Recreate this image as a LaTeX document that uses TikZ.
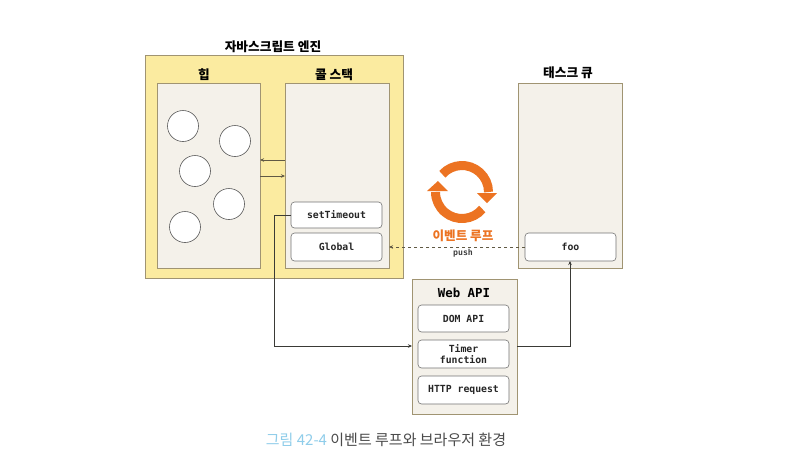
\documentclass[tikz,border=0pt]{standalone}
\usepackage{fontspec}
\usepackage{xcolor}
\usetikzlibrary{arrows.meta}
\setmainfont{Noto Sans CJK KR}
\setmonofont{DejaVu Sans Mono}
\definecolor{engine-yellow}{HTML}{FBEBA0}
\definecolor{panel-bg}{HTML}{F4F1EA}
\definecolor{panel-line}{HTML}{A09472}
\definecolor{loop-orange}{HTML}{EC7322}
\definecolor{caption-blue}{HTML}{8FCDEA}
\definecolor{caption-text}{HTML}{4A4A4A}
\definecolor{wire}{HTML}{3A3A36}
\tikzset{
    panel/.style={draw=panel-line, fill=panel-bg, line width=0.8pt, inner sep=0pt, outer sep=0pt},
    slot/.style={draw=black!55, fill=white, rounded corners=3.5pt, line width=0.6pt, inner sep=0pt, outer sep=0pt,
          minimum width=91pt, align=center, font=\fontsize{9.8}{11.8}\selectfont\ttfamily\bfseries, text=black!85},
    blob/.style={circle, draw=black!65, fill=white, line width=0.6pt, minimum size=31pt, inner sep=0pt},
    heading/.style={font=\fontsize{12.7}{15}\selectfont\bfseries, inner sep=0pt},
    wired/.style={->, color=wire, line width=0.8pt},
    looparc/.style={draw=loop-orange, line width=9pt},
    loophead/.style={fill=loop-orange},
}
\begin{document}
\begin{tikzpicture}[x=1pt, y=-1pt, >={Stealth[length=4pt,width=3.5pt]}]
    \useasboundingbox (0,0) rectangle (785,467);
    \fill[white] (0,0) rectangle (785,467);
    \node[panel, fill=engine-yellow, minimum width=258pt, minimum height=223pt] (engine) at (274,166.5) {};
    \node[heading] (engineTitle) at (273,47) {자바스크립트 엔진};
    \node[panel, minimum width=103pt, minimum height=185pt] (heap) at (208.5,175.5) {};
    \node[heading] (heapTitle) at (204,75) {힙};
    \node[panel, minimum width=104pt, minimum height=185pt] (callStack) at (337,175.5) {};
    \node[heading] (stackTitle) at (334,75) {콜 스택};
    \node[panel, minimum width=104pt, minimum height=185pt] (taskQueue) at (570,175.5) {};
    \node[heading] (queueTitle) at (568,73) {태스크 큐};
    \node[blob] (blobA) at (183,126) {};
    \node[blob] (blobB) at (235,141) {};
    \node[blob] (blobC) at (195,171) {};
    \node[blob] (blobD) at (229,204) {};
    \node[blob] (blobE) at (185,227) {};
    \node[slot, minimum height=26pt] (setTimeout) at (336.5,215) {setTimeout};
    \node[slot, minimum height=28pt] (global) at (336.5,247) {Global};
    \node[slot, minimum height=28pt] (foo) at (570.5,247) {foo};
    \node[panel, minimum width=105pt, minimum height=135pt] (webApi) at (464.5,346.5) {};
    \node[font=\fontsize{12.4}{15}\selectfont\ttfamily\bfseries, inner sep=0pt] (webApiTitle) at (464,293) {Web API};
    \node[slot, minimum height=27pt] (domApi) at (463.5,318.5) {DOM API};
    \node[slot, minimum height=28pt] (timer) at (463.5,354) {Timer\\function};
    \node[slot, minimum height=28pt] (http) at (463.5,390) {HTTP request};
    \coordinate (stackDown) at (274,346);
    \coordinate (fooDrop) at (570,346);
    \draw[<-, draw=panel-line!60!black, line width=0.6pt] (heap.east |- 0,160) -- (callStack.west |- 0,160);
    \draw[->, draw=panel-line!60!black, line width=0.6pt] (heap.east |- 0,176) -- (callStack.west |- 0,176);
    \draw[wired] (setTimeout.west) -- (setTimeout.west -| stackDown) -- (stackDown) -- (stackDown -| webApi.west);
    \draw[wired] (webApi.east |- fooDrop) -- (fooDrop) -- (fooDrop |- foo.south);
    \draw[->, dash pattern=on 3.5pt off 2.5pt, draw=panel-line!60!black, line width=0.8pt] (foo.west) -- (foo.west -| callStack.east);
    \draw[looparc] (462,192) ++(222:26.5) arc[start angle=222, end angle=360, radius=26.5];
    \fill[loophead] (477,193) -- (497,193) -- (487,203) -- cycle;
    \draw[looparc] (462,192) ++(40:26.5) arc[start angle=40, end angle=180, radius=26.5];
    \fill[loophead] (427,191) -- (448,191) -- (438,181) -- cycle;
    \node[font=\fontsize{12.6}{15}\selectfont\bfseries, text=loop-orange, inner sep=0pt] (loopLabel) at (463,236) {이벤트 루프};
    \node[font=\fontsize{8.2}{10}\selectfont\ttfamily\bfseries, text=black!75, inner sep=0pt] (pushLabel) at (463,253) {push};
    \node[font=\fontsize{15}{18}\selectfont, text=caption-text, inner sep=0pt] (caption) at (386,440)
          {\textcolor{caption-blue}{그림 42-4} 이벤트 루프와 브라우저 환경};
\end{tikzpicture}
\end{document}
